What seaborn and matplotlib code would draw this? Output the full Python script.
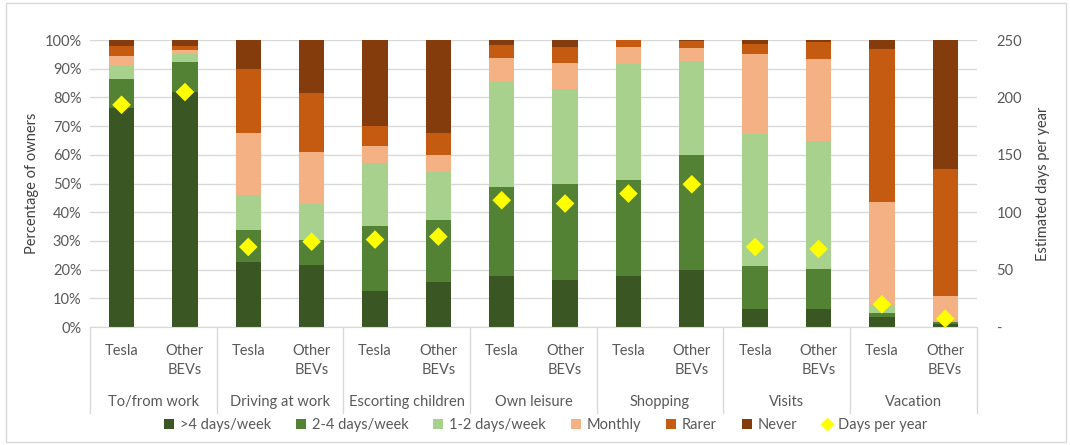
import pandas as pd
import numpy as np
import matplotlib
matplotlib.use("Agg")
import matplotlib.pyplot as plt
from matplotlib.patches import Patch, Rectangle
from matplotlib.lines import Line2D
import matplotlib.transforms as mtransforms
import seaborn as sns

# purposes and owner groups
purposes = ["To/from work", "Driving at work", "Escorting children", "Own leisure",
            "Shopping", "Visits", "Vacation"]
owners = ["Tesla", "Other\nBEVs"]
levels = [">4 days/week", "2-4 days/week", "1-2 days/week", "Monthly", "Rarer", "Never"]
level_colors = ["#3a5623", "#548235", "#a9d18e", "#f4b183", "#c55a11", "#843c0c"]

# share of owners (%) per bar, in order Tesla / Other for each purpose
more_than_4 = [76.4, 82.0, 22.7, 21.7, 12.4, 15.7, 17.9, 16.3, 17.9, 19.8, 6.2, 6.2, 3.5, 0.9]
days_2_4 = [10.0, 10.2, 11.0, 8.8, 22.7, 21.7, 30.9, 33.4, 33.5, 40.2, 15.0, 13.9, 1.4, 0.7]
days_1_2 = [4.5, 2.9, 12.2, 12.3, 21.9, 16.6, 36.7, 33.4, 40.1, 32.8, 46.1, 44.6, 2.9, 0.5]
monthly = [3.5, 1.5, 21.8, 18.1, 6.1, 6.0, 8.3, 8.8, 6.1, 4.5, 27.8, 28.8, 35.9, 8.6]
rarer = [3.5, 1.3, 22.3, 20.8, 7.1, 7.7, 4.5, 5.7, 2.4, 2.2, 3.5, 5.7, 53.3, 44.2]
never = [2.1, 2.1, 10.0, 18.3, 29.8, 32.3, 1.7, 2.4, 0.2, 0.5, 1.4, 0.8, 3.0, 45.1]

# estimated days per year (right axis)
days_per_year = [193.6, 204.7, 69.8, 74.4, 76.2, 78.8, 110.5, 107.6, 116.3, 124.4, 69.8, 68.0, 19.8, 7.3]

series = [more_than_4, days_2_4, days_1_2, monthly, rarer, never]
bar_ids = [f"b{i}" for i in range(len(more_than_4))]
tick_labels = owners * len(purposes)

# long table of cumulative tops for stacking
rows = []
cum = np.zeros(len(bar_ids))
for lev, vals in zip(levels, series):
    cum = cum + np.array(vals)
    for b, c in zip(bar_ids, cum):
        rows.append({"bar": b, "level": lev, "top": c})
df = pd.DataFrame(rows)

sns.set_style("white")
plt.rcParams["font.family"] = ["Lato", "DejaVu Sans"]
text_col = "#595959"

fig = plt.figure(figsize=(10.7, 4.45), dpi=100)
ax = fig.add_axes([0.084, 0.265, 0.829, 0.645])

# draw tallest first so shorter cumulative bars sit on top
sns.barplot(data=df, x="bar", y="top", hue="level", hue_order=levels[::-1],
            palette=dict(zip(levels, level_colors)), order=bar_ids, dodge=False,
            width=0.4, saturation=1, edgecolor="none", legend=False, ax=ax)

ax.set_ylim(0, 100)
ax.set_xlim(-0.5, len(bar_ids) - 0.5)
ax.set_yticks(range(0, 101, 10))
ax.set_yticklabels([f"{v}%" for v in range(0, 101, 10)], fontsize=10.5, color=text_col)
ax.set_xticks(range(len(bar_ids)))
ax.set_xticklabels(tick_labels, fontsize=10.5, color=text_col, linespacing=1.45)
ax.tick_params(axis="x", length=0, pad=12)
ax.tick_params(axis="y", length=0, pad=6)
ax.yaxis.grid(True, color="#d9d9d9", lw=1)
ax.set_axisbelow(True)
for s in ["top", "left", "right"]:
    ax.spines[s].set_visible(False)
ax.spines["bottom"].set_color("#d9d9d9")
ax.set_xlabel("")
ax.set_ylabel("Percentage of owners", fontsize=10.5, color="#404040", labelpad=4)

# group labels and separators under the axis
trans = mtransforms.blended_transform_factory(ax.transData, ax.transAxes)
for i, p in enumerate(purposes):
    ax.text(2 * i + 0.5, -0.262, p, transform=trans, ha="center", va="center",
            fontsize=10.5, color=text_col)
for k in range(len(purposes) + 1):
    ax.plot([2 * k - 0.5, 2 * k - 0.5], [0, -0.30], transform=trans, color="#d9d9d9",
            lw=1, clip_on=False)

# days per year on the right axis
ax2 = ax.twinx()
sns.scatterplot(x=np.arange(len(bar_ids)), y=days_per_year, marker="D", s=90,
                color="#ffff00", edgecolor="none", ax=ax2, zorder=5)
ax2.set_ylim(0, 250)
ax2.set_yticks(range(0, 251, 50))
ax2.set_yticklabels(["-"] + [str(v) for v in range(50, 251, 50)], fontsize=10.5, color=text_col)
ax2.tick_params(axis="y", length=0, pad=14)
for s in ["top", "left", "right", "bottom"]:
    ax2.spines[s].set_visible(False)
ax2.set_ylabel("Estimated days per year", fontsize=10.5, color="#404040", labelpad=10)

# legend
handles = [Patch(facecolor=c, edgecolor="none", label=l) for l, c in zip(levels, level_colors)]
handles.append(Line2D([], [], marker="D", color="none", markerfacecolor="#ffff00",
                      markeredgecolor="none", markersize=7, label="Days per year"))
fig.legend(handles=handles, loc="center", bbox_to_anchor=(0.51, 0.045), ncol=7,
           frameon=False, fontsize=10.5, handlelength=0.7, handleheight=0.7,
           handletextpad=0.4, columnspacing=1.7, labelcolor=text_col)

# outer chart border
fig.add_artist(Rectangle((0.006, 0.006), 0.99, 0.988, transform=fig.transFigure,
                         fill=False, edgecolor="#d9d9d9", lw=1))

fig.savefig("out.png", dpi=100)
